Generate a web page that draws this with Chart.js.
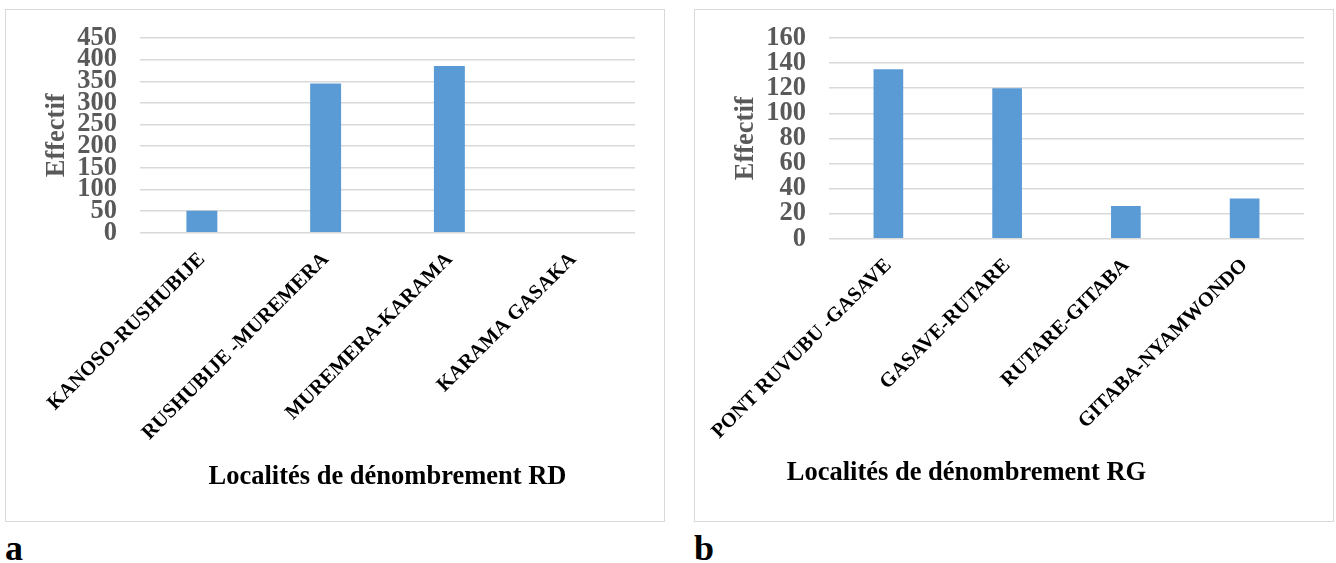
<!DOCTYPE html>
<html lang="fr">
<head>
<meta charset="utf-8">
<title>Localités de dénombrement</title>
<script src="https://cdn.jsdelivr.net/npm/chart.js@4"></script>
<style>
    html, body { margin: 0; padding: 0; background: #fff; }
    .page { position: relative; width: 1336px; height: 563px; overflow: hidden; }
    .box { position: absolute; top: 9px; height: 513px; border: 1px solid #d9d9d9; box-sizing: border-box; }
    .box canvas { position: absolute; left: 0; top: 0; }
    #box-a { left: 5px; width: 660px; }
    #box-b { left: 694px; width: 640px; }
    .panel { position: absolute; top: 530px; font: bold 36px "Liberation Serif", "Times New Roman", serif; line-height: 36px; color: #000; }
</style>
</head>
<body>
<div class="page">
    <div class="box" id="box-a"><canvas id="chart-a" width="658" height="511"></canvas></div>
    <div class="box" id="box-b"><canvas id="chart-b" width="638" height="511"></canvas></div>
    <div class="panel" style="left:5px;">a</div>
    <div class="panel" style="left:694px;">b</div>
</div>
<script>
const rdLabels = ['KANOSO-RUSHUBIJE', 'RUSHUBIJE -MUREMERA', 'MUREMERA-KARAMA', 'KARAMA GASAKA'];
const rdValues = [51, 345, 385, 0];
const rdTicks = { max: 450, step: 50 };

const rgLabels = ['PONT RUVUBU -GASAVE', 'GASAVE-RUTARE', 'RUTARE-GITABA', 'GITABA-NYAMWONDO'];
const rgValues = [135, 120, 26, 32];
const rgTicks = { max: 160, step: 20 };

const SERIF = '"Liberation Serif", "Times New Roman", serif';
Chart.defaults.font.family = SERIF;

// x-axis title drawn by hand so it can sit off-centre like in the original
const xTitle = {
    id: 'xTitle',
    afterDraw(chart, args, opts) {
        const { ctx, chartArea } = chart;
        ctx.save();
        ctx.font = 'bold 26.5px ' + SERIF;
        ctx.fillStyle = '#000';
        ctx.textAlign = 'center';
        ctx.textBaseline = 'alphabetic';
        ctx.fillText(opts.text, (chartArea.left + chartArea.right) / 2 + opts.shift, opts.y);
        ctx.restore();
    },
};

function barChart(id, labels, values, ticks, xAxisHeight, title) {
    return new Chart(document.getElementById(id), {
        type: 'bar',
        data: {
            labels,
            datasets: [{
                data: values,
                backgroundColor: '#5B9BD5',
                categoryPercentage: 0.5,
                barPercentage: 0.5,
            }],
        },
        options: {
            responsive: false,
            animation: false,
            layout: { padding: { left: 0, top: 28, right: 29, bottom: 0 } },
            plugins: {
                legend: { display: false },
                tooltip: { enabled: false },
                xTitle: title,
            },
            scales: {
                x: {
                    grid: { display: false },
                    border: { display: false },
                    ticks: {
                        autoSkip: false,
                        minRotation: 45,
                        maxRotation: 45,
                        padding: 7,
                        color: '#000',
                        font: { size: 20.5, weight: 'bold' },
                    },
                    afterFit: s => {
                        s.height = xAxisHeight;
                        s.paddingLeft = 0;
                        s.paddingRight = 0;
                    },
                },
                y: {
                    min: 0,
                    max: ticks.max,
                    border: { display: false },
                    grid: { color: '#d9d9d9', lineWidth: 1.5, tickLength: 23, tickColor: 'rgba(0,0,0,0)' },
                    ticks: {
                        stepSize: ticks.step,
                        autoSkip: false,
                        padding: 0,
                        color: '#595959',
                        font: { size: 26.5, weight: 'bold' },
                    },
                    title: {
                        display: true,
                        text: 'Effectif',
                        color: '#595959',
                        font: { size: 26.5, weight: 'bold' },
                        padding: { top: 35, bottom: 0 },
                    },
                    afterFit: s => { s.width = 134; },
                },
            },
        },
        plugins: [xTitle],
    });
}

barChart('chart-a', rdLabels, rdValues, rdTicks, 288.3, { text: 'Localités de dénombrement RD', shift: 0, y: 473.5 });
barChart('chart-b', rgLabels, rgValues, rgTicks, 282.3, { text: 'Localités de dénombrement RG', shift: -100, y: 469.5 });
</script>
</body>
</html>
